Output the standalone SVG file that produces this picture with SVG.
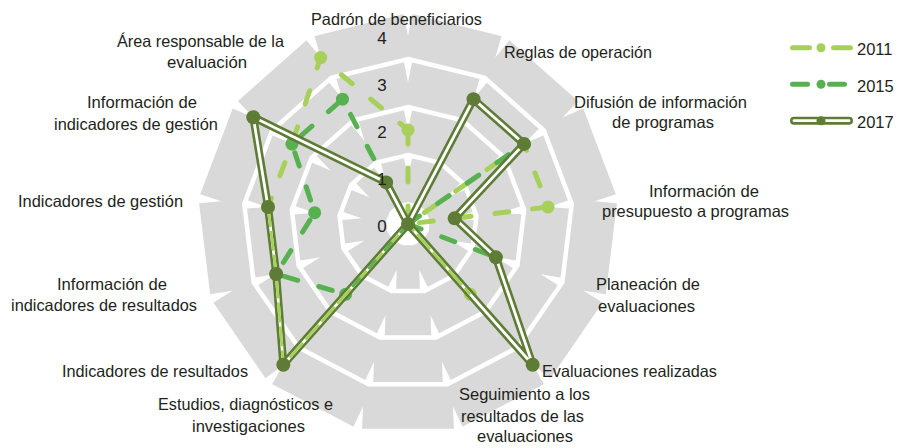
<svg xmlns="http://www.w3.org/2000/svg" width="899" height="448" viewBox="0 0 899 448">
<style>
text{font-family:"Liberation Sans",Arial,sans-serif;font-size:16.5px;fill:#231f20}
.tick{font-size:17px;text-anchor:middle}
.gap{fill:none;stroke:#fff;stroke-width:4.5}
.s11{fill:none;stroke:#a7d05a;stroke-width:5;stroke-linecap:round;stroke-linejoin:round;stroke-dasharray:14 24}
.s15{fill:none;stroke:#58b150;stroke-width:5;stroke-linecap:round;stroke-linejoin:round;stroke-dasharray:14 22}
.s17o{fill:none;stroke:#5e7c35;stroke-width:8;stroke-linecap:round;stroke-linejoin:round}
.s17i{fill:none;stroke:#fff;stroke-width:2.8;stroke-linecap:round;stroke-linejoin:round}
.d11{fill:#a7d05a}.d15{fill:#58b150}.d17{fill:#5e7c35}
</style>
<defs>
<g id="notch" fill="#fff">
<polygon points="-4.5,-209.9 0,-213 4.5,-209.9 0,-188"/>
<polygon points="-4.5,-163.9 0,-166 4.5,-163.9 0,-142"/>
<polygon points="-4.5,-115.9 0,-118 4.5,-115.9 0,-94"/>
<polygon points="-4.5,-67.9 0,-70 4.5,-67.9 0,-47"/>
</g>
</defs>
<g id="chart" transform="translate(408,224)">
<g id="grid">
<polygon fill="#d9d9d9" points="0,-211 98.06,-186.83 173.65,-119.86 209.46,-25.43 197.29,74.82 139.92,157.94 50.5,204.87 -50.5,204.87 -139.92,157.94 -197.29,74.82 -209.46,-25.43 -173.65,-119.86 -98.06,-186.83"/>
<polygon class="gap" points="0,-165 76.68,-146.1 135.79,-93.73 163.8,-19.89 154.28,58.51 109.41,123.5 39.49,160.21 -39.49,160.21 -109.41,123.5 -154.28,58.51 -163.8,-19.89 -135.79,-93.73 -76.68,-146.1"/>
<polygon class="gap" points="0,-117 54.37,-103.6 96.29,-66.46 116.15,-14.1 109.4,41.49 77.59,87.58 28,113.6 -28,113.6 -77.59,87.58 -109.4,41.49 -116.15,-14.1 -96.29,-66.46 -54.37,-103.6"/>
<polygon class="gap" points="0,-69 32.07,-61.1 56.79,-39.2 68.5,-8.32 64.52,24.47 45.76,51.65 16.51,67 -16.51,67 -45.76,51.65 -64.52,24.47 -68.5,-8.32 -56.79,-39.2 -32.07,-61.1"/>
<polygon fill="#fff" points="0,-22 10.22,-19.48 18.11,-12.5 21.84,-2.65 20.57,7.8 14.59,16.47 5.27,21.36 -5.27,21.36 -14.59,16.47 -20.57,7.8 -21.84,-2.65 -18.11,-12.5 -10.22,-19.48"/>
<use href="#notch"/>
<use href="#notch" transform="rotate(27.6923)"/>
<use href="#notch" transform="rotate(55.3846)"/>
<use href="#notch" transform="rotate(83.0769)"/>
<use href="#notch" transform="rotate(110.7692)"/>
<use href="#notch" transform="rotate(138.4615)"/>
<use href="#notch" transform="rotate(166.1538)"/>
<use href="#notch" transform="rotate(193.8462)"/>
<use href="#notch" transform="rotate(221.5385)"/>
<use href="#notch" transform="rotate(249.2308)"/>
<use href="#notch" transform="rotate(276.9231)"/>
<use href="#notch" transform="rotate(304.6154)"/>
<use href="#notch" transform="rotate(332.3077)"/>
</g>
<g id="series-2011">
<path class="s11" d="M0,-94 L0,0 L116.04,-80.1 L139.97,-17 L0,0"/>
<path class="s11" d="M0,0 L62.33,70.36"/>
<path class="s11" d="M0,0 L-124.67,140.72 L-131.84,50 L-139.97,-17 L-116.04,-80.1 L-87.37,-166.47 L0,-94"/>
<circle class="d11" cx="0" cy="-94" r="6.5"/>
<circle class="d11" cx="116.04" cy="-80.1" r="6.5"/>
<circle class="d11" cx="139.97" cy="-17" r="6.5"/>
<circle class="d11" cx="62.33" cy="70.36" r="6.5"/>
<circle class="d11" cx="-124.67" cy="140.72" r="6.5"/>
<circle class="d11" cx="-131.84" cy="50" r="6.5"/>
<circle class="d11" cx="-139.97" cy="-17" r="6.5"/>
<circle class="d11" cx="-116.04" cy="-80.1" r="6.5"/>
<circle class="d11" cx="-87.37" cy="-166.47" r="6.5"/>
</g>
<g id="series-2015">
<path class="s15" d="M0,0 L116.04,-80.1"/>
<path class="s15" d="M0,0 L87.89,33.33"/>
<path class="s15" d="M0,0 L-62.33,70.36 L-131.84,50 L-93.31,-11.33 L-116.04,-80.1 L-65.53,-124.85 L0,0"/>
<circle class="d15" cx="116.04" cy="-80.1" r="6.5"/>
<circle class="d15" cx="87.89" cy="33.33" r="6.5"/>
<circle class="d15" cx="-62.33" cy="70.36" r="6.5"/>
<circle class="d15" cx="-131.84" cy="50" r="6.5"/>
<circle class="d15" cx="-93.31" cy="-11.33" r="6.5"/>
<circle class="d15" cx="-116.04" cy="-80.1" r="6.5"/>
<circle class="d15" cx="-65.53" cy="-124.85" r="6.5"/>
</g>
<g id="series-2017">
<path class="s17o" d="M0,0 L65.53,-124.85 L116.04,-80.1 L46.66,-5.67 L87.89,33.33 L124.67,140.72 L0,0 L-124.67,140.72 L-131.84,50 L-139.97,-17 L-154.72,-106.8 L-21.84,-41.62 Z"/>
<path class="s17i" d="M0,0 L65.53,-124.85 L116.04,-80.1 L46.66,-5.67 L87.89,33.33 L124.67,140.72 L0,0 L-124.67,140.72 L-131.84,50 L-139.97,-17 L-154.72,-106.8 L-21.84,-41.62 Z"/>
<path fill="none" stroke="#a7d05a" stroke-width="2.8" stroke-dasharray="20 4" d="M-139.97,-17 L-131.84,50 L-124.67,140.72 L0,0 L62.33,70.36"/>
<path fill="none" stroke="#58b150" stroke-width="2.8" stroke-dasharray="12 12" d="M0,0 L-62.33,70.36"/>
<circle class="d17" cx="0" cy="0" r="7"/>
<circle class="d17" cx="65.53" cy="-124.85" r="7"/>
<circle class="d17" cx="116.04" cy="-80.1" r="7"/>
<circle class="d17" cx="46.66" cy="-5.67" r="7"/>
<circle class="d17" cx="87.89" cy="33.33" r="7"/>
<circle class="d17" cx="124.67" cy="140.72" r="7"/>
<circle class="d17" cx="-124.67" cy="140.72" r="7"/>
<circle class="d17" cx="-131.84" cy="50" r="7"/>
<circle class="d17" cx="-139.97" cy="-17" r="7"/>
<circle class="d17" cx="-154.72" cy="-106.8" r="7"/>
<circle class="d17" cx="-21.84" cy="-41.62" r="7"/>
</g>
</g>
<g id="ticks">
<text class="tick" x="382" y="44">4</text>
<text class="tick" x="382" y="91">3</text>
<text class="tick" x="382" y="138">2</text>
<text class="tick" x="382" y="185">1</text>
<text class="tick" x="382" y="232">0</text>
</g>
<g id="axis-labels">
<text x="311" y="25" textLength="171" lengthAdjust="spacingAndGlyphs">Padrón de beneficiarios</text>
<text x="504" y="58" textLength="148" lengthAdjust="spacingAndGlyphs">Reglas de operación</text>
<text x="574" y="108" textLength="173" lengthAdjust="spacingAndGlyphs">Difusión de información</text>
<text x="612" y="128" textLength="102" lengthAdjust="spacingAndGlyphs">de programas</text>
<text x="649" y="197" textLength="110" lengthAdjust="spacingAndGlyphs">Información de</text>
<text x="602" y="217" textLength="187" lengthAdjust="spacingAndGlyphs">presupuesto a programas</text>
<text x="596" y="290" textLength="104" lengthAdjust="spacingAndGlyphs">Planeación de</text>
<text x="598" y="312" textLength="97" lengthAdjust="spacingAndGlyphs">evaluaciones</text>
<text x="542" y="377" textLength="175" lengthAdjust="spacingAndGlyphs">Evaluaciones realizadas</text>
<text x="459" y="400" textLength="131" lengthAdjust="spacingAndGlyphs">Seguimiento a los</text>
<text x="461" y="422" textLength="123" lengthAdjust="spacingAndGlyphs">resultados de las</text>
<text x="477" y="442" textLength="96" lengthAdjust="spacingAndGlyphs">evaluaciones</text>
<text x="158" y="410" textLength="175" lengthAdjust="spacingAndGlyphs">Estudios, diagnósticos e</text>
<text x="192" y="432" textLength="113" lengthAdjust="spacingAndGlyphs">investigaciones</text>
<text x="62" y="377" textLength="186" lengthAdjust="spacingAndGlyphs">Indicadores de resultados</text>
<text x="57" y="290" textLength="110" lengthAdjust="spacingAndGlyphs">Información de</text>
<text x="11" y="311" textLength="186" lengthAdjust="spacingAndGlyphs">indicadores de resultados</text>
<text x="18" y="207" textLength="165" lengthAdjust="spacingAndGlyphs">Indicadores de gestión</text>
<text x="87" y="108" textLength="110" lengthAdjust="spacingAndGlyphs">Información de</text>
<text x="54" y="130" textLength="164" lengthAdjust="spacingAndGlyphs">indicadores de gestión</text>
<text x="117" y="47" textLength="167" lengthAdjust="spacingAndGlyphs">Área responsable de la</text>
<text x="167" y="68" textLength="80" lengthAdjust="spacingAndGlyphs">evaluación</text>
</g>
<g id="legend">
<line x1="792.5" y1="47.7" x2="809.5" y2="47.7" stroke="#a7d05a" stroke-width="5" stroke-linecap="round"/>
<line x1="833.5" y1="47.7" x2="850.5" y2="47.7" stroke="#a7d05a" stroke-width="5" stroke-linecap="round"/>
<circle class="d11" cx="821" cy="47.7" r="4.5"/>
<text x="857" y="55">2011</text>
<line x1="792.5" y1="84.3" x2="807.5" y2="84.3" stroke="#58b150" stroke-width="5" stroke-linecap="round"/>
<line x1="829.5" y1="84.3" x2="844.5" y2="84.3" stroke="#58b150" stroke-width="5" stroke-linecap="round"/>
<circle class="d15" cx="821" cy="84.3" r="4.5"/>
<text x="857" y="92">2015</text>
<line class="s17o" x1="794" y1="120.7" x2="849" y2="120.7"/>
<line class="s17i" x1="794" y1="120.7" x2="849" y2="120.7"/>
<circle class="d17" cx="821" cy="120.7" r="4.5"/>
<text x="857" y="128">2017</text>
</g>
</svg>
